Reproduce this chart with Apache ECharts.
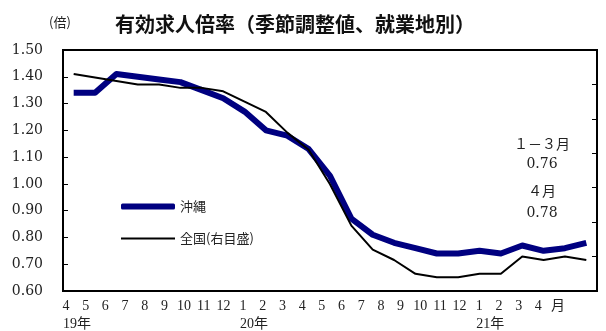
<!DOCTYPE html>
<html>
<head>
<meta charset="utf-8">
<script src="https://cdn.jsdelivr.net/npm/echarts@6/dist/echarts.min.js"></script>
<style>
  html, body { margin: 0; padding: 0; background: #fff; }
  #chart { width: 606px; height: 331px; }
</style>
</head>
<body>
<div id="chart"></div>
<script>
// Months covered: April 2019 – April 2021
const months = [
  '2019-04', '2019-05', '2019-06', '2019-07', '2019-08', '2019-09', '2019-10', '2019-11', '2019-12',
  '2020-01', '2020-02', '2020-03', '2020-04', '2020-05', '2020-06', '2020-07', '2020-08', '2020-09',
  '2020-10', '2020-11', '2020-12', '2021-01', '2021-02', '2021-03', '2021-04'
];

// Okinawa ratio (left scale)
const okinawa = [
  1.34, 1.34, 1.41, 1.40, 1.39, 1.38, 1.35, 1.32, 1.27,
  1.20, 1.18, 1.13, 1.03, 0.87, 0.81, 0.78, 0.76, 0.74,
  0.74, 0.75, 0.74, 0.77, 0.75, 0.76, 0.78
];

// Nationwide ratio (right scale)
const national = [
  1.63, 1.62, 1.61, 1.60, 1.60, 1.59, 1.59, 1.58, 1.55,
  1.52, 1.46, 1.41, 1.31, 1.19, 1.12, 1.09, 1.05, 1.04,
  1.04, 1.05, 1.05, 1.10, 1.09, 1.10, 1.09
];

// Tick text under the plot
const monthTicks = ['4', '5', '6', '7', '8', '9', '10', '11', '12', '1', '2', '3', '4', '5', '6', '7', '8', '9', '10', '11', '12', '1', '2', '3', '4', '月'];
const yearTicks = ['19年', '', '', '', '', '', '', '', '', '20年', '', '', '', '', '', '', '', '', '', '', '', '21年', '', '', '', ''];

// Side note
const noteLines = ['１－３月', '0.76', '４月', '0.78'];
const unitLabel = '(倍)';

const serif = '"DejaVu Serif", "Noto Sans CJK JP", serif';
const serifNarrow = '"Liberation Serif", "Noto Sans CJK JP", serif';
const sans = '"Noto Sans CJK JP", sans-serif';
const textColor = '#222';

const chart = echarts.init(document.getElementById('chart'), null, { renderer: 'canvas' });

const noteY = [144, 164, 191, 213];

const legendCommon = {
  orient: 'vertical',
  left: 121,
  padding: 0,
  itemWidth: 54,
  textStyle: { fontFamily: sans, fontSize: 13, color: textColor }
};

chart.setOption({
  animation: false,
  backgroundColor: '#fff',
  title: {
    text: '有効求人倍率（季節調整値、就業地別）',
    left: 110,
    top: 9,
    textStyle: { fontFamily: sans, fontSize: 20, fontWeight: 'bold', color: '#111' }
  },
  legend: [
    Object.assign({}, legendCommon, {
      top: 200, itemHeight: 6, icon: 'roundRect',
      data: [{ name: '沖縄', itemStyle: { color: '#000080' } }]
    }),
    Object.assign({}, legendCommon, {
      top: 232, itemHeight: 2, icon: 'rect',
      data: [{ name: '全国(右目盛)', itemStyle: { color: '#000' } }]
    })
  ],
  grid: [
    { left: 63, right: 9, top: 50, bottom: 40, show: true, borderColor: '#000', borderWidth: 2 },
    { left: 66, right: 48, top: 280, bottom: 40 },
    { left: 63, right: 51, top: 280, bottom: 40 }
  ],
  xAxis: [
    {
      type: 'category', gridIndex: 0, data: months, boundaryGap: true,
      axisLine: { lineStyle: { color: '#000', width: 2 } },
      axisTick: { show: false },
      axisLabel: { show: false }
    },
    {
      type: 'category', gridIndex: 1, data: monthTicks, boundaryGap: false,
      axisLine: { show: false }, axisTick: { show: false },
      axisLabel: { interval: 0, margin: 8, fontFamily: serifNarrow, fontSize: 14, color: textColor }
    },
    {
      type: 'category', gridIndex: 2, data: monthTicks, boundaryGap: false,
      axisLine: { show: false }, axisTick: { show: false },
      axisLabel: {
        interval: 0, margin: 27, align: 'left', fontFamily: serifNarrow, fontSize: 14, color: textColor,
        formatter: (v, i) => yearTicks[i]
      }
    }
  ],
  yAxis: [
    {
      type: 'value', gridIndex: 0, min: 0.6, max: 1.5, interval: 0.1,
      axisLine: { show: true, lineStyle: { color: '#000', width: 2 } },
      axisTick: { show: true, inside: true, length: 5, lineStyle: { color: '#000' } },
      splitLine: { show: false },
      axisLabel: { margin: 20, fontFamily: serif, fontSize: 14, color: textColor, formatter: v => v.toFixed(2) }
    },
    {
      type: 'value', gridIndex: 0, position: 'right', min: 1.0, max: 1.7, interval: 0.1,
      axisLine: { show: true, lineStyle: { color: '#000', width: 2 } },
      axisTick: { show: true, inside: true, length: 5, lineStyle: { color: '#000' } },
      splitLine: { show: false },
      axisLabel: { show: false }
    },
    { type: 'value', gridIndex: 1, show: false },
    { type: 'value', gridIndex: 2, show: false }
  ],
  series: [
    {
      name: '沖縄', type: 'line', xAxisIndex: 0, yAxisIndex: 0, data: okinawa,
      symbol: 'none', color: '#000080',
      lineStyle: { width: 6, color: '#000080', join: 'round' }
    },
    {
      name: '全国(右目盛)', type: 'line', xAxisIndex: 0, yAxisIndex: 1, data: national,
      symbol: 'none', color: '#000',
      lineStyle: { width: 2, color: '#000' }
    }
  ],
  graphic: [
    {
      type: 'text', x: 60, y: 22,
      style: { text: unitLabel, fill: textColor, font: '13px ' + sans, align: 'center', verticalAlign: 'middle' }
    }
  ].concat(noteLines.map((t, i) => ({
    type: 'text',
    x: 542,
    y: noteY[i],
    style: {
      text: t,
      fill: textColor,
      font: '14px ' + (i % 2 === 0 ? sans : serif),
      align: 'center',
      verticalAlign: 'middle'
    }
  })))
});
</script>
</body>
</html>
